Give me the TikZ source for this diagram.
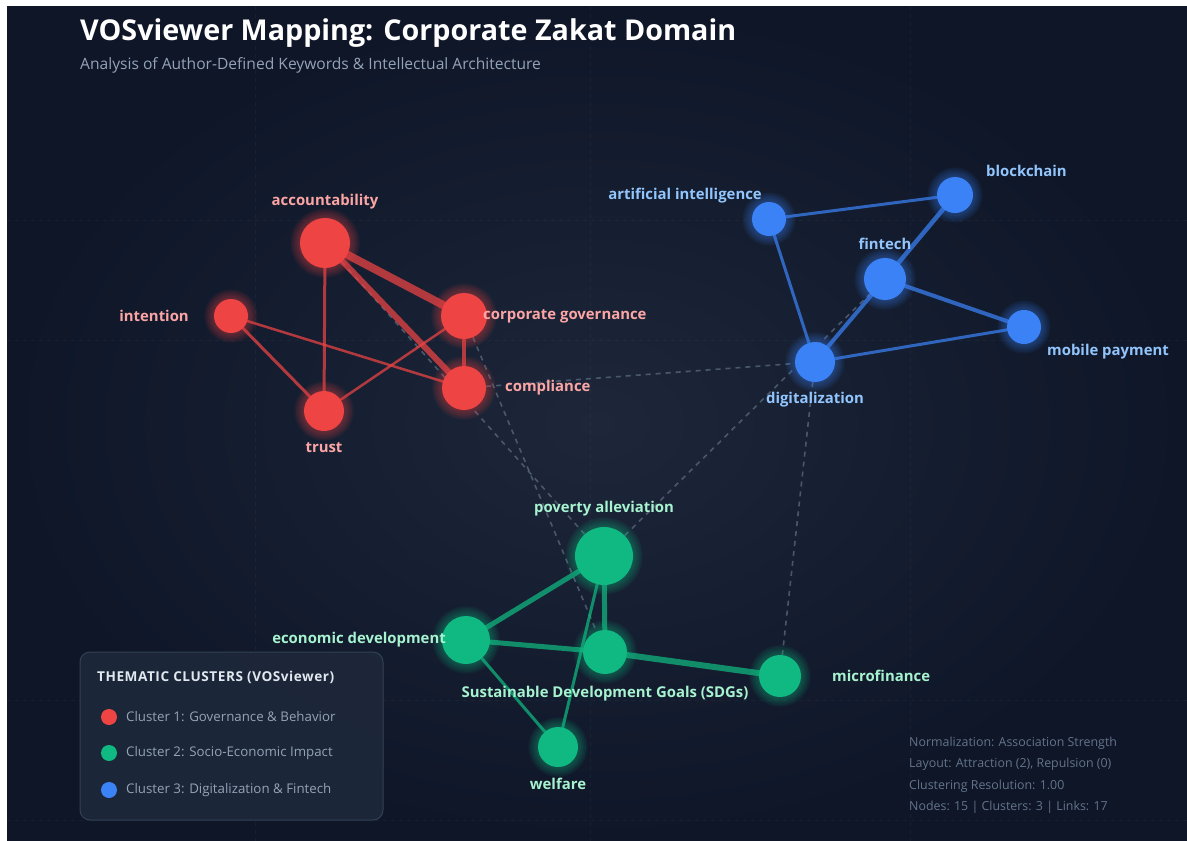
\documentclass[tikz,border=0pt]{standalone}
\usepackage{fontspec}
\setmainfont{Open Sans}
\definecolor{bgdark}{HTML}{0E1628}
\definecolor{bgmid}{HTML}{1D2739}
\definecolor{cred}{HTML}{EF4444}
\definecolor{cgreen}{HTML}{10B981}
\definecolor{cblue}{HTML}{3B82F6}
\definecolor{lred}{HTML}{FCA5A5}
\definecolor{lgreen}{HTML}{A7F3D0}
\definecolor{lblue}{HTML}{93C5FD}
\definecolor{dashc}{HTML}{64748B}
\definecolor{subc}{HTML}{94A3B8}
\definecolor{legfill}{HTML}{1E293B}
\definecolor{legdraw}{HTML}{334155}
\definecolor{legtitle}{HTML}{E2E8F0}
\definecolor{legtext}{HTML}{94A3B8}
\definecolor{footc}{HTML}{64748B}
\pgfdeclarelayer{back}
\pgfdeclarelayer{edges}
\pgfsetlayers{back,edges,main}
\tikzset{
  lab/.style={inner sep=0pt, font=\fontsize{14.9}{17}\bfseries\selectfont},
  redge/.style={draw=cred, draw opacity=0.72, line cap=round},
  gedge/.style={draw=cgreen, draw opacity=0.72, line cap=round},
  bedge/.style={draw=cblue, draw opacity=0.72, line cap=round},
  xedge/.style={draw=dashc, draw opacity=0.65, line width=1.6pt, dash pattern=on 5pt off 5pt},
  legitem/.style={anchor=west, inner sep=0pt, text=legtext, font=\fontsize{13.3}{15}\selectfont},
  foot/.style={anchor=west, inner sep=0pt, text=footc, font=\fontsize{12.4}{14}\selectfont},
  gridl/.style={draw=white, draw opacity=0.035, line width=0.8pt, dash pattern=on 4pt off 4pt}
}
\newcommand{\kwnode}[5]{%
  \foreach \k in {1,...,6}{\fill[#5, opacity=0.07] (#2,#3) circle ({#4+\k*1.6});}
  \node[circle, fill=#5, inner sep=0pt, minimum size={2*#4}] (#1) at (#2,#3) {};
}
\begin{document}
\begin{tikzpicture}[x=1pt,y=-1pt]
\useasboundingbox (0,0) rectangle (1187,841);
\begin{pgfonlayer}{back}
\fill[white] (0,0) rectangle (1187,841);
\shade[inner color=bgmid, outer color=bgdark] (7,6) rectangle (1187,841);
\foreach \yy in {220,340,700,820}{\draw[gridl] (7,\yy) -- (1187,\yy);}
\foreach \xx in {255,590,910}{\draw[gridl] (\xx,6) -- (\xx,841);}
\end{pgfonlayer}

% title
\node[anchor=base west, inner sep=0pt, text=white, font=\fontsize{28.7}{32}\bfseries\selectfont] (title) at (80,40) {VOSviewer Mapping: Corporate Zakat Domain};
\node[anchor=base west, inner sep=0pt, text=subc, font=\fontsize{15.6}{18}\selectfont] (subtitle) at (80,69) {Analysis of Author-Defined Keywords \& Intellectual Architecture};

% nodes
\kwnode{acc}{325}{243}{25}{cred}
\kwnode{int}{231}{316}{17}{cred}
\kwnode{cg}{464}{316}{23}{cred}
\kwnode{comp}{464}{388}{22}{cred}
\kwnode{trust}{324}{411}{20}{cred}

\kwnode{ai}{769}{219}{17}{cblue}
\kwnode{block}{955}{195}{18}{cblue}
\kwnode{fin}{885}{279}{21}{cblue}
\kwnode{mob}{1024}{327}{17}{cblue}
\kwnode{dig}{815}{362}{20}{cblue}

\kwnode{pov}{604}{556}{29}{cgreen}
\kwnode{eco}{466}{640}{24}{cgreen}
\kwnode{sdg}{605}{652}{22}{cgreen}
\kwnode{micro}{780}{676}{21}{cgreen}
\kwnode{wel}{558}{747}{20}{cgreen}

% edges
\begin{pgfonlayer}{edges}
\draw[xedge] (comp) -- (dig);
\draw[xedge] (cg) -- (sdg);
\draw[xedge] (acc) -- (pov);
\draw[xedge] (pov) -- (fin);
\draw[xedge] (dig) -- (micro);

\draw[redge, line width=8pt] (acc) -- (cg);
\draw[redge, line width=6pt] (acc) -- (comp);
\draw[redge, line width=3pt] (acc) -- (trust);
\draw[redge, line width=3pt] (int) -- (trust);
\draw[redge, line width=2.5pt] (int) -- (comp);
\draw[redge, line width=2.5pt] (cg) -- (trust);
\draw[redge, line width=4.5pt] (cg) -- (comp);

\draw[bedge, line width=3pt] (ai) -- (block);
\draw[bedge, line width=3pt] (ai) -- (dig);
\draw[bedge, line width=4.5pt] (block) -- (fin);
\draw[bedge, line width=4pt] (fin) -- (mob);
\draw[bedge, line width=4pt] (fin) -- (dig);
\draw[bedge, line width=3pt] (mob) -- (dig);

\draw[gedge, line width=5pt] (pov) -- (eco);
\draw[gedge, line width=5pt] (pov) -- (sdg);
\draw[gedge, line width=3pt] (pov) -- (wel);
\draw[gedge, line width=5pt] (eco) -- (sdg);
\draw[gedge, line width=3pt] (eco) -- (wel);
\draw[gedge, line width=6pt] (sdg) -- (micro);
\end{pgfonlayer}

% labels
\node[lab, text=lred] (acc-l) at (325,202) {accountability};
\node[lab, text=lred, anchor=east] (int-l) at (189,316) {intention};
\node[lab, text=lred, anchor=west] (cg-l) at (483,316) {corporate governance};
\node[lab, text=lred, anchor=west] (comp-l) at (505,388) {compliance};
\node[lab, text=lred] (trust-l) at (324,448) {trust};

\node[lab, text=lblue, anchor=east] (ai-l) at (762,196) {artificial intelligence};
\node[lab, text=lblue, anchor=west] (block-l) at (986,171) {blockchain};
\node[lab, text=lblue] (fin-l) at (885,244) {fintech};
\node[lab, text=lblue, anchor=west] (mob-l) at (1047,352) {mobile payment};
\node[lab, text=lblue] (dig-l) at (815,400) {digitalization};

\node[lab, text=lgreen] (pov-l) at (604,509) {poverty alleviation};
\node[lab, text=lgreen, anchor=east] (eco-l) at (446,640) {economic development};
\node[lab, text=lgreen] (sdg-l) at (605,694) {Sustainable Development Goals (SDGs)};
\node[lab, text=lgreen, anchor=west] (micro-l) at (832,676) {microfinance};
\node[lab, text=lgreen] (wel-l) at (558,784) {welfare};

% legend
\draw[rounded corners=10pt, fill=legfill, fill opacity=0.85, draw=legdraw, line width=1pt] (80,652) rectangle (383,820);
\node[anchor=west, inner sep=0pt, text=legtitle, font=\fontsize{13.6}{15}\bfseries\addfontfeatures{LetterSpace=4}\selectfont] (legt) at (97,677) {THEMATIC CLUSTERS (VOSviewer)};
\node[circle, fill=cred, inner sep=0pt, minimum size=16pt] (lc1) at (109,717) {};
\node[circle, fill=cgreen, inner sep=0pt, minimum size=16pt] (lc2) at (109,753) {};
\node[circle, fill=cblue, inner sep=0pt, minimum size=16pt] (lc3) at (109,790) {};
\node[legitem] (li1) at (126,717) {Cluster 1: Governance \& Behavior};
\node[legitem] (li2) at (126,753) {Cluster 2: Socio-Economic Impact};
\node[legitem] (li3) at (126,790) {Cluster 3: Digitalization \& Fintech};

% footer
\node[foot] (f1) at (909,743) {Normalization: Association Strength};
\node[foot] (f2) at (909,764) {Layout: Attraction (2), Repulsion (0)};
\node[foot] (f3) at (909,786) {Clustering Resolution: 1.00};
\node[foot] (f4) at (909,807) {Nodes: 15 | Clusters: 3 | Links: 17};
\end{tikzpicture}
\end{document}
